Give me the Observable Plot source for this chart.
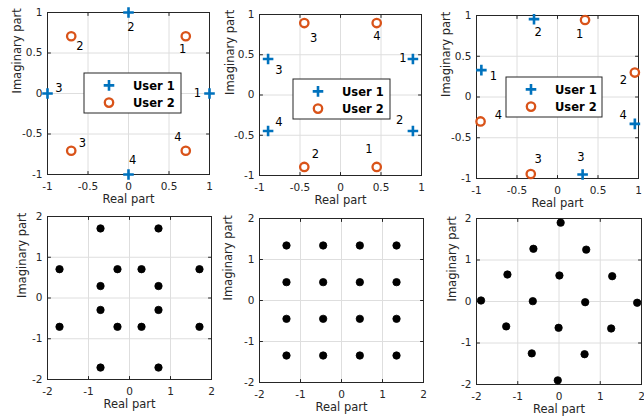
<!DOCTYPE html>
<html><head><meta charset="utf-8">
<script src="https://cdn.jsdelivr.net/npm/d3@7"></script>
<script src="https://cdn.jsdelivr.net/npm/@observablehq/plot@0.6"></script>
<style>
html,body{margin:0;padding:0;background:#fff;}
#fig{position:relative;width:644px;height:419px;overflow:hidden;background:#fff;}
#fig > svg{position:absolute;}
</style></head><body><div id="fig"></div>
<script>
// ---------- data ----------
const seriesNames = ["User 1", "User 2"];
const pointLabels = ["1", "2", "3", "4"];
const topTicks = [-1, -0.5, 0, 0.5, 1];
const bottomTicks = [-2, -1, 0, 1, 2];

// Panel 1
const p1U1Re = [1, 0, -1, 0];
const p1U1Im = [0, 1, 0, -1];
const p1U2Re = [0.707, -0.707, -0.707, 0.707];
const p1U2Im = [0.707, 0.707, -0.707, -0.707];
const p1U1LabRe = [0.85, 0.03, -0.86, 0.05];
const p1U1LabIm = [0.0, 0.82, 0.06, -0.83];
const p1U2LabRe = [0.67, -0.6, -0.57, 0.61];
const p1U2LabIm = [0.54, 0.58, -0.62, -0.54];

// Panel 2
const p2U1Re = [0.894, 0.894, -0.894, -0.894];
const p2U1Im = [0.447, -0.447, 0.447, -0.447];
const p2U2Re = [0.447, -0.447, -0.447, 0.447];
const p2U2Im = [-0.894, -0.894, 0.894, 0.894];
const p2U1LabRe = [0.77, 0.73, -0.76, -0.76];
const p2U1LabIm = [0.46, -0.31, 0.31, -0.34];
const p2U2LabRe = [0.35, -0.31, -0.33, 0.45];
const p2U2LabIm = [-0.68, -0.74, 0.71, 0.735];

// Panel 3
const p3U1Re = [-0.94, -0.29, 0.31, 0.955];
const p3U1Im = [0.33, 0.955, -0.95, -0.33];
const p3U2Re = [0.34, 0.955, -0.33, -0.95];
const p3U2Im = [0.945, 0.3, -0.945, -0.3];
const p3U1LabRe = [-0.79, -0.24, 0.29, 0.81];
const p3U1LabIm = [0.25, 0.79, -0.74, -0.22];
const p3U2LabRe = [0.275, 0.815, -0.24, -0.73];
const p3U2LabIm = [0.775, 0.2, -0.76, -0.22];

// Panel 4 (superposition of panel 1)
const p4Re = [-0.707, 0.707, -1.707, -0.293, 0.293, 1.707, -0.707, 0.707, -0.707, 0.707, -1.707, -0.293, 0.293, 1.707, -0.707, 0.707];
const p4Im = [1.707, 1.707, 0.707, 0.707, 0.707, 0.707, 0.293, 0.293, -0.293, -0.293, -0.707, -0.707, -0.707, -0.707, -1.707, -1.707];

// Panel 5 (superposition of panel 2)
const p5Re = [-1.342, -0.447, 0.447, 1.342, -1.342, -0.447, 0.447, 1.342, -1.342, -0.447, 0.447, 1.342, -1.342, -0.447, 0.447, 1.342];
const p5Im = [1.342, 1.342, 1.342, 1.342, 0.447, 0.447, 0.447, 0.447, -0.447, -0.447, -0.447, -0.447, -1.342, -1.342, -1.342, -1.342];

// Panel 6 (superposition of panel 3)
const p6Re = [0.04, -0.62, 0.66, -1.25, 0.01, 1.29, -1.89, -0.635, 0.635, 1.895, -1.28, -0.01, 1.265, -0.66, 0.62, -0.03];
const p6Im = [1.9, 1.27, 1.25, 0.65, 0.627, 0.61, 0.024, 0.008, -0.017, -0.03, -0.6, -0.634, -0.65, -1.25, -1.27, -1.9];

// ---------- helpers ----------
const blue = "#0072BD", orange = "#D95319", axisCol = "#262626";
const font = "DejaVu Sans, sans-serif";
const fmt = d => String(d);
const plusR = 3.5;
const rows = (re, im, lab) => re.map((v, i) => ({re: v, im: im[i], lab: lab ? lab[i] : null}));
const tickShape = {draw(ctx, l) { ctx.moveTo(0, 0); ctx.lineTo(0, -l); }};

function frameTicks(ticks) {
  const o = {anchor: "start", length: 3, shape: tickShape, stroke: axisCol, strokeWidth: 1};
  return [
    Plot.vector(ticks, {...o, x: d => d, frameAnchor: "bottom", rotate: 0}),
    Plot.vector(ticks, {...o, x: d => d, frameAnchor: "top", rotate: 180}),
    Plot.vector(ticks, {...o, y: d => d, frameAnchor: "left", rotate: 90}),
    Plot.vector(ticks, {...o, y: d => d, frameAnchor: "right", rotate: -90})
  ];
}

function panel(c) {
  const svg = Plot.plot({
    width: c.w, height: c.h,
    marginLeft: c.mL, marginRight: c.mR, marginTop: c.mT, marginBottom: c.mB,
    x: {domain: c.dom}, y: {domain: c.dom},
    style: {fontFamily: font, background: "none", color: axisCol, overflow: "visible"},
    marks: [
      Plot.gridX(c.ticks, {stroke: "#dedede", strokeOpacity: 1}),
      Plot.gridY(c.ticks, {stroke: "#dedede", strokeOpacity: 1}),
      Plot.frame({stroke: axisCol, strokeWidth: 1}),
      ...frameTicks(c.ticks),
      Plot.axisX(c.ticks, {tickSize: 0, tickPadding: 8, tickFormat: fmt, fontSize: 10.5, label: null}),
      Plot.axisY(c.ticks, {tickSize: 0, tickPadding: 5, tickFormat: fmt, fontSize: 10.5, label: null}),
      Plot.text(["Real part"], {text: d => d, frameAnchor: "bottom", dy: 28, fontSize: 11.5, fill: axisCol}),
      Plot.text(["Imaginary part"], {text: d => d, frameAnchor: "left", dx: c.ylabDx, rotate: -90, fontSize: 11.5, fill: axisCol}),
      ...c.marks
    ]
  });
  svg.style.left = c.left + "px";
  svg.style.top = c.top + "px";
  document.getElementById("fig").appendChild(svg);
}

function userMarks(u1, u2, l1, l2) {
  return [
    Plot.dot(u2, {x: "re", y: "im", r: 4.2, stroke: orange, strokeWidth: 2.3, fill: "none"}),
    Plot.dot(u1, {x: "re", y: "im", symbol: "plus", r: plusR, stroke: blue, strokeWidth: 2.6}),
    Plot.text(l1, {x: "re", y: "im", text: "lab", fontSize: 11.5, fill: "#000"}),
    Plot.text(l2, {x: "re", y: "im", text: "lab", fontSize: 11.5, fill: "#000"})
  ];
}
function superMarks(pts) {
  return [Plot.dot(pts, {x: "re", y: "im", r: 3.7, fill: "#000", stroke: "#000", strokeWidth: 0.8})];
}

function legend(left, top, w, h) {
  const svg = d3.select("#fig").append("svg")
    .attr("width", w + 2).attr("height", h + 2)
    .style("left", (left - 1) + "px").style("top", (top - 1) + "px");
  svg.append("rect").attr("x", 1).attr("y", 1).attr("width", w).attr("height", h)
    .attr("fill", "#fff").attr("stroke", axisCol).attr("stroke-width", 1);
  const cy = [1 + h * 0.31, 1 + h * 0.74];
  svg.append("path").attr("transform", `translate(26,${cy[0]})`)
    .attr("d", d3.symbol(d3.symbolPlus, Math.PI * plusR * plusR)())
    .attr("fill", "none").attr("stroke", blue).attr("stroke-width", 2.6);
  svg.append("circle").attr("cx", 26).attr("cy", cy[1]).attr("r", 4.2)
    .attr("fill", "none").attr("stroke", orange).attr("stroke-width", 2.3);
  seriesNames.forEach((n, i) => {
    svg.append("text").attr("x", 50).attr("y", cy[i]).attr("dy", "0.36em")
      .attr("font-family", font).attr("font-weight", "bold").attr("font-size", 11.5)
      .attr("fill", "#000").text(n);
  });
}

// ---------- panels ----------
panel({left: 0, top: 0, w: 215, h: 210, mL: 47, mR: 6, mT: 12, mB: 36, ylabDx: -30,
  dom: [-1, 1], ticks: topTicks,
  marks: userMarks(rows(p1U1Re, p1U1Im), rows(p1U2Re, p1U2Im),
    rows(p1U1LabRe, p1U1LabIm, pointLabels), rows(p1U2LabRe, p1U2LabIm, pointLabels))});
panel({left: 212, top: 0, w: 214, h: 210, mL: 47, mR: 5, mT: 14, mB: 35, ylabDx: -29,
  dom: [-1, 1], ticks: topTicks,
  marks: userMarks(rows(p2U1Re, p2U1Im), rows(p2U2Re, p2U2Im),
    rows(p2U1LabRe, p2U1LabIm, pointLabels), rows(p2U2LabRe, p2U2LabIm, pointLabels))});
panel({left: 428, top: 0, w: 216, h: 210, mL: 48, mR: 6, mT: 15, mB: 32, ylabDx: -30,
  dom: [-1, 1], ticks: topTicks,
  marks: userMarks(rows(p3U1Re, p3U1Im), rows(p3U2Re, p3U2Im),
    rows(p3U1LabRe, p3U1LabIm, pointLabels), rows(p3U2LabRe, p3U2LabIm, pointLabels))});
panel({left: 0, top: 210, w: 215, h: 209, mL: 47, mR: 4, mT: 6, mB: 40, ylabDx: -25,
  dom: [-2, 2], ticks: bottomTicks, marks: superMarks(rows(p4Re, p4Im))});
panel({left: 212, top: 210, w: 214, h: 209, mL: 47, mR: 3, mT: 8, mB: 37, ylabDx: -31,
  dom: [-2, 2], ticks: bottomTicks, marks: superMarks(rows(p5Re, p5Im))});
panel({left: 428, top: 210, w: 216, h: 209, mL: 48, mR: 3, mT: 8, mB: 35, ylabDx: -24,
  dom: [-2, 2], ticks: bottomTicks, marks: superMarks(rows(p6Re, p6Im))});

legend(84, 73, 97, 40);
legend(293, 79, 97, 40);
legend(506, 77, 96, 40);
</script></body></html>
